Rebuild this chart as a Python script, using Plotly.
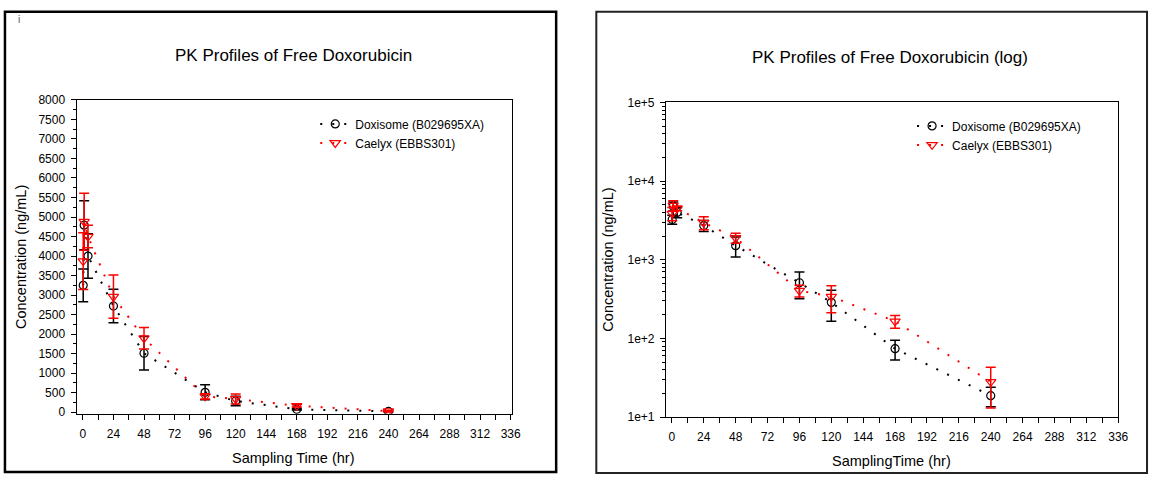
import plotly.graph_objects as go

# ---------------- data ----------------
time_hr = [0.25, 1, 4, 24, 48, 96, 120, 168, 240]
doxisome_mean = [3250, 4790, 4000, 2720, 1510, 510, 287, 74, 18.7]
doxisome_sd = [420, 630, 570, 430, 430, 190, 122, 21, 5.2]
caelyx_mean = [3870, 4880, 4500, 2960, 1895, 405, 340, 165, 28]
caelyx_sd = [730, 730, 290, 555, 275, 70, 128, 30, 15]

series_names = ["Doxisome (B029695XA)", "Caelyx (EBBS301)"]
x_ticks = list(range(0, 337, 24))
lin_ticks = list(range(0, 8001, 500))
log_major = [10, 100, 1000, 10000, 100000]
log_major_text = ["1e+1", "1e+2", "1e+3", "1e+4", "1e+5"]
log_minor = [m * 10 ** k for k in range(1, 5) for m in range(2, 10)]

titles = ["PK Profiles of Free Doxorubicin", "PK Profiles of Free Doxorubicin (log)"]
x_titles = ["Sampling Time (hr)", "SamplingTime (hr)"]
y_title = "Concentration (ng/mL)"

# ---------------- layout helpers ----------------
W, H = 1160, 482
FONT = "Liberation Sans, Arial, sans-serif"


def px(x):
    return x / W


def py(y):
    return 1 - y / H


fig = go.Figure()

styles = [
    dict(color="black", symbol="circle-open", size=8),
    dict(color="red", symbol="triangle-down-open", size=9),
]
means = [doxisome_mean, caelyx_mean]
sds = [doxisome_sd, caelyx_sd]

for panel, (xa, ya, leg) in enumerate([("x", "y", "legend"), ("x2", "y2", "legend2")]):
    for i in range(2):
        st = styles[i]
        fig.add_trace(go.Scatter(
            x=time_hr, y=means[i], name=series_names[i],
            mode="lines+markers",
            xaxis=xa, yaxis=ya, legend=leg,
            line=dict(color=st["color"], width=2, dash="2px,10px"),
            marker=dict(symbol=st["symbol"], size=st["size"], color=st["color"],
                        line=dict(color=st["color"], width=1.2)),
            error_y=dict(type="data", array=sds[i], visible=True,
                         color=st["color"], thickness=1.5, width=5),
        ))

axis_common = dict(
    showline=True, mirror=True, linecolor="black", linewidth=1,
    showgrid=False, zeroline=False, ticks="outside", ticklen=5,
    tickcolor="black", tickfont=dict(family=FONT, size=12, color="black"),
)

fig.update_layout(
    width=W, height=H,
    margin=dict(l=0, r=0, t=0, b=0),
    paper_bgcolor="white", plot_bgcolor="white",
    font=dict(family=FONT, size=12, color="black"),
    xaxis=dict(domain=[px(77.2), px(516.4)], range=[-5, 337], anchor="y",
               tickvals=x_ticks, ticklabelstandoff=4,
               minor=dict(dtick=12, tick0=0, ticks="outside", ticklen=5, tickcolor="black"),
               **axis_common),
    yaxis=dict(domain=[py(419), py(95.7)], range=[-42, 8000], anchor="x",
               tickvals=lin_ticks, ticklabelstandoff=3,
               minor=dict(dtick=250, tick0=0, ticks="outside", ticklen=3, tickcolor="black"),
               **axis_common),
    xaxis2=dict(domain=[px(671.7), px(1128)], range=[-4.5, 336], anchor="y2",
                tickvals=x_ticks, ticklabelstandoff=4,
                minor=dict(dtick=12, tick0=0, ticks="outside", ticklen=5, tickcolor="black"),
                **axis_common),
    yaxis2=dict(domain=[py(422.3), py(98.3)], type="log", range=[1, 5], anchor="x2",
                tickvals=log_major, ticktext=log_major_text, ticklabelstandoff=3,
                minor=dict(tickvals=log_minor, ticks="outside", ticklen=3, tickcolor="black"),
                **axis_common),
    legend=dict(x=px(318), y=py(105.5), xanchor="left", yanchor="top",
                bgcolor="rgba(0,0,0,0)", font=dict(family=FONT, size=12),
                itemwidth=30, tracegroupgap=0),
    legend2=dict(x=px(920), y=py(107.5), xanchor="left", yanchor="top",
                 bgcolor="rgba(0,0,0,0)", font=dict(family=FONT, size=12),
                 itemwidth=30, tracegroupgap=0),
    showlegend=True,
)

# panel frames
fig.add_shape(type="rect", xref="paper", yref="paper",
              x0=px(5), x1=px(561), y0=py(479), y1=py(5),
              line=dict(color="black", width=2.5), fillcolor="rgba(0,0,0,0)", layer="below")
fig.add_shape(type="rect", xref="paper", yref="paper",
              x0=px(601.5), x1=px(1157), y0=py(480), y1=py(5),
              line=dict(color="#222", width=2), fillcolor="rgba(0,0,0,0)", layer="below")

annots = [
    dict(text=titles[0], x=px(296), y=py(50), size=17),
    dict(text=titles[1], x=px(898), y=py(52), size=17),
    dict(text=x_titles[0], x=px(296), y=py(464), size=14.5),
    dict(text=x_titles[1], x=px(899), y=py(468), size=14.5),
    dict(text=y_title, x=px(20.7), y=py(258), size=14.5, textangle=-90),
    dict(text=y_title, x=px(613.5), y=py(260), size=14.5, textangle=-90),
    dict(text="i", x=px(18.8), y=py(12.7), size=10, color="#555"),
]
for a in annots:
    fig.add_annotation(
        text=a["text"], x=a["x"], y=a["y"], xref="paper", yref="paper",
        xanchor="center", yanchor="middle", showarrow=False,
        textangle=a.get("textangle", 0),
        font=dict(family=FONT, size=a["size"], color=a.get("color", "black")),
    )

fig.write_html("out.html")
